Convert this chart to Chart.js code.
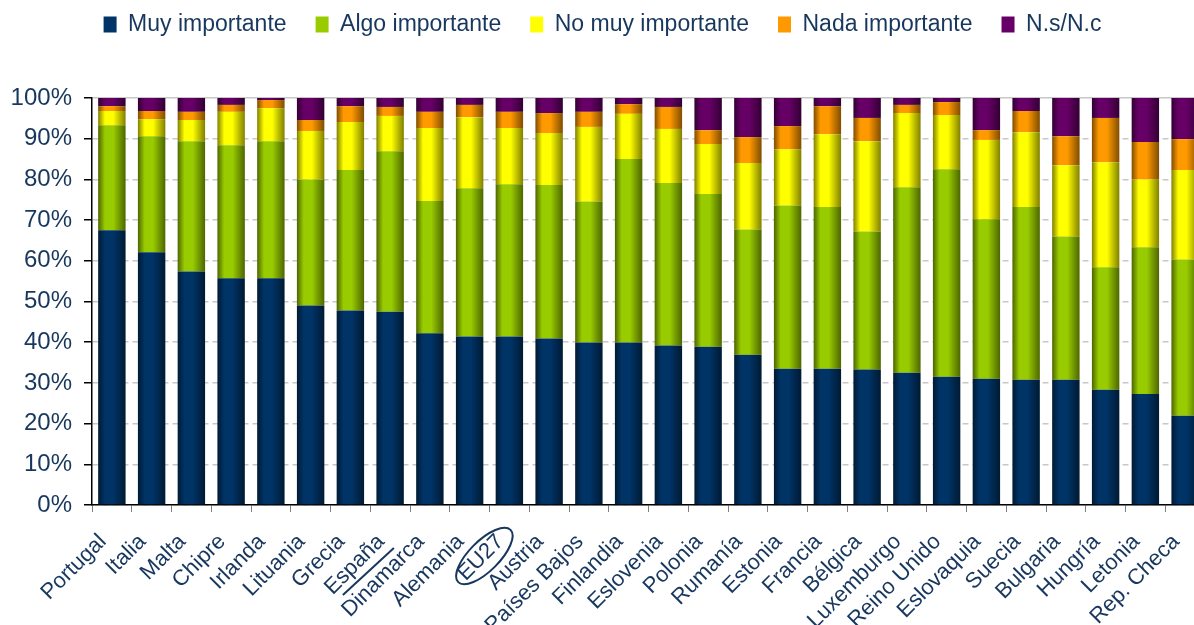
<!DOCTYPE html>
<html>
<head>
<meta charset="utf-8">
<script src="https://cdn.jsdelivr.net/npm/chart.js@4/dist/chart.umd.min.js"></script>
<style>
  html, body { margin: 0; padding: 0; background: #fff; overflow: hidden; }
  #wrap { width: 1205px; height: 625px; position: relative; }
</style>
</head>
<body>
<div id="wrap"><canvas id="chart"></canvas></div>
<script>
const labels = ['Portugal', 'Italia', 'Malta', 'Chipre', 'Irlanda', 'Lituania', 'Grecia', 'España', 'Dinamarca', 'Alemania', 'EU27', 'Austria', 'Países Bajos', 'Finlandia', 'Eslovenia', 'Polonia', 'Rumanía', 'Estonia', 'Francia', 'Bélgica', 'Luxemburgo', 'Reino Unido', 'Eslovaquia', 'Suecia', 'Bulgaria', 'Hungría', 'Letonia', 'Rep. Checa']

const muyImportante = [67.5, 62.1, 57.4, 55.7, 55.7, 49.0, 47.8, 47.5, 42.2, 41.4, 41.4, 40.9, 39.9, 39.9, 39.2, 38.9, 36.9, 33.5, 33.5, 33.3, 32.5, 31.5, 31.0, 30.8, 30.8, 28.3, 27.3, 21.9]
const algoImportante = [25.8, 28.5, 32.0, 32.7, 33.7, 31.0, 34.5, 39.4, 32.5, 36.4, 37.4, 37.7, 34.7, 45.1, 39.9, 37.5, 30.8, 40.1, 39.7, 33.9, 45.6, 51.0, 39.2, 42.4, 35.2, 30.1, 36.0, 38.4]
const noMuyImportante = [3.5, 4.2, 5.2, 8.2, 8.1, 11.9, 11.8, 8.7, 17.9, 17.5, 13.8, 12.8, 18.3, 11.1, 13.3, 12.3, 16.3, 13.8, 17.9, 22.2, 18.2, 13.3, 19.5, 18.4, 17.5, 25.8, 16.7, 22.0]
const nadaImportante = [1.2, 2.0, 2.0, 1.7, 2.0, 2.7, 3.9, 2.2, 4.0, 3.0, 4.0, 4.9, 3.7, 2.4, 5.4, 3.4, 6.4, 5.7, 6.9, 5.7, 2.0, 3.2, 2.4, 5.2, 7.1, 10.9, 9.2, 7.6]
const nsnc = [2.0, 3.2, 3.4, 1.7, 0.5, 5.4, 2.0, 2.2, 3.4, 1.7, 3.4, 3.7, 3.4, 1.5, 2.2, 7.9, 9.6, 6.9, 2.0, 4.9, 1.7, 1.0, 7.9, 3.2, 9.4, 4.9, 10.8, 10.1]

const textColor = '#17375e'
const barPct = 0.69
const fontFamily = 'Liberation Sans, Arial, sans-serif'

// horizontal shading on every bar, like the old office charts
function shade(main, edge) {
    return function (c) {
        const chart = c.chart
        const xs = chart.scales.x
        if (!chart.chartArea || !xs || c.dataIndex === undefined) return main
        const cx = xs.getPixelForValue(c.dataIndex)
        const half = xs.width / labels.length * barPct / 2
        const g = chart.ctx.createLinearGradient(cx - half, 0, cx + half, 0)
        g.addColorStop(0, edge)
        g.addColorStop(0.25, main)
        g.addColorStop(0.55, main)
        g.addColorStop(1, edge)
        return g
    }
}

// circle round EU27 and stroke under Dinamarca
const marks = {
    id: 'marks',
    afterDraw(chart) {
        const xs = chart.scales.x
        const ctx = chart.ctx
        const top = xs.top
        ctx.save()
        ctx.strokeStyle = textColor
        ctx.lineWidth = 2
        let px = xs.getPixelForValue(labels.indexOf('EU27'))
        ctx.beginPath()
        ctx.ellipse(px - 25, top + 51, 37, 15, -Math.PI / 4, 0, 2 * Math.PI)
        ctx.stroke()
        px = xs.getPixelForValue(labels.indexOf('Dinamarca'))
        ctx.beginPath()
        ctx.moveTo(px - 87, top + 90)
        ctx.lineTo(px - 36, top + 43)
        ctx.stroke()
        ctx.restore()
    }
}

// legend block is taller than its row; pull the row up
const legendSpace = {
    id: 'legendSpace',
    beforeInit(chart) {
        const fit = chart.legend.fit
        chart.legend.fit = function () {
            fit.bind(chart.legend)()
            this.height = 98
        }
    },
    afterLayout(chart) {
        chart.legend.top = -16
    }
}

const series = [
    ['Muy importante', muyImportante, '#003366', '#001a33'],
    ['Algo importante', algoImportante, '#99cc00', '#4d6600'],
    ['No muy importante', noMuyImportante, '#ffff00', '#808000'],
    ['Nada importante', nadaImportante, '#ff9900', '#804d00'],
    ['N.s/N.c', nsnc, '#660066', '#330033']
]

new Chart(document.getElementById('chart'), {
    type: 'bar',
    data: {
        labels: labels,
        datasets: series.map(s => ({
            label: s[0],
            data: s[1],
            backgroundColor: shade(s[2], s[3]),
            borderWidth: 0,
            barPercentage: barPct,
            categoryPercentage: 1
        }))
    },
    options: {
        responsive: true,
        maintainAspectRatio: false,
        animation: false,
        layout: { padding: 0 },
        plugins: {
            tooltip: { enabled: false },
            legend: {
                position: 'top',
                labels: {
                    color: textColor,
                    font: { family: fontFamily, size: 23 },
                    boxWidth: 13,
                    boxHeight: 16,
                    padding: 29,
                    generateLabels: chart => {
                        const items = Chart.defaults.plugins.legend.labels.generateLabels(chart)
                        items.forEach((it, i) => {
                            it.fillStyle = series[i][2]
                            it.strokeStyle = series[i][2]
                            it.lineWidth = 0
                        })
                        return items
                    }
                }
            }
        },
        scales: {
            x: {
                stacked: true,
                afterFit: scale => {
                    scale.height = 120
                    scale.paddingLeft = 0
                    scale.paddingRight = 0
                },
                grid: { drawOnChartArea: false, tickLength: 7, tickColor: '#808080' },
                border: { color: '#000', width: 1.5 },
                ticks: {
                    color: textColor,
                    font: { family: fontFamily, size: 22 },
                    minRotation: 45,
                    maxRotation: 45,
                    autoSkip: false,
                    padding: 17,
                    labelOffset: -9
                }
            },
            y: {
                stacked: true,
                min: 0,
                max: 100,
                afterFit: scale => { scale.width = 92 },
                grid: { color: '#c8c8c8', tickColor: '#000', tickLength: 8, lineWidth: 1.5 },
                border: {
                    color: '#000',
                    width: 1.5,
                    dash: c => (c.tick && c.tick.value === 100 ? [] : [6, 4])
                },
                ticks: {
                    stepSize: 10,
                    color: textColor,
                    padding: 12,
                    font: { family: fontFamily, size: 24 },
                    callback: v => v + '%'
                }
            }
        }
    },
    plugins: [legendSpace, marks]
})
</script>
</body>
</html>
